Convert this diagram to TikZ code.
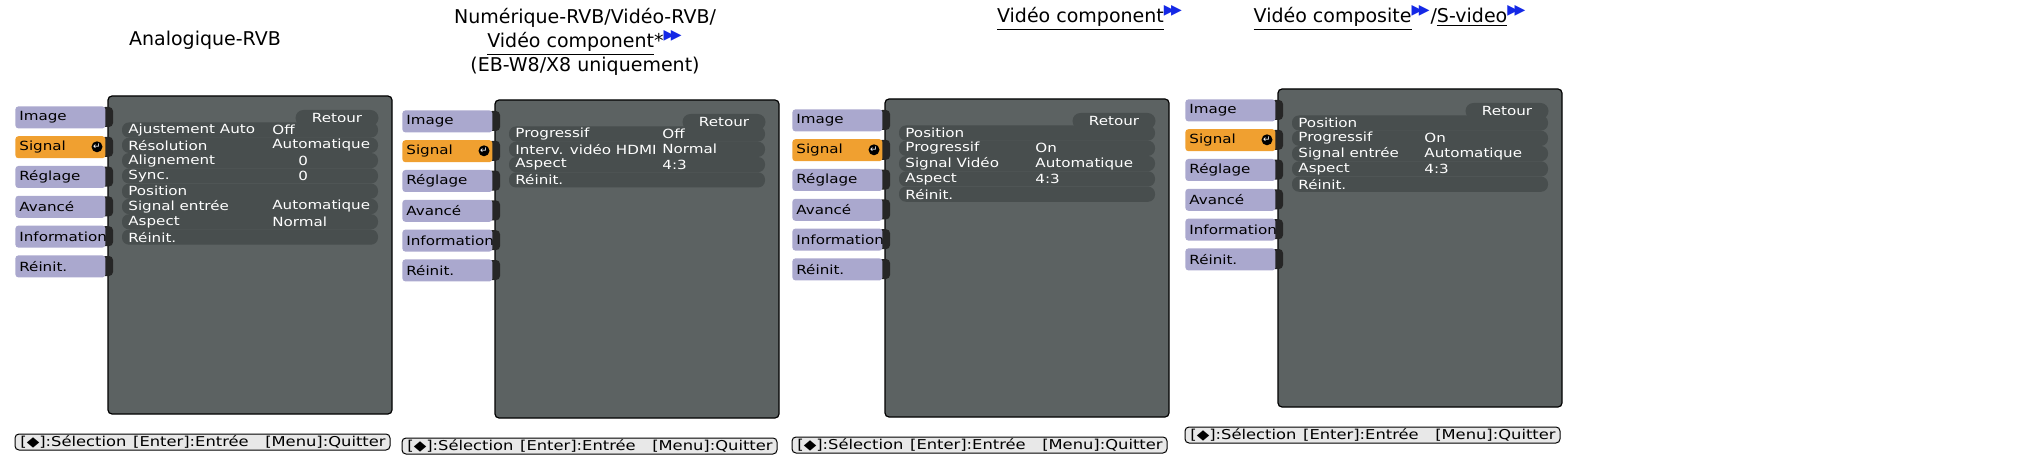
\documentclass[tikz,border=0pt]{standalone}
\usepackage{fontspec}
\setmainfont{DejaVu Sans}
\newfontfamily\menufont[FakeStretch=1.2]{DejaVu Sans}
\usetikzlibrary{positioning}
\definecolor{tablilac}{RGB}{170,168,206}
\definecolor{sigorange}{RGB}{240,160,48}
\definecolor{panelgrey}{RGB}{92,98,98}
\definecolor{rowgrey}{RGB}{72,78,78}
\definecolor{footgrey}{RGB}{232,232,232}
\definecolor{fwdblue}{RGB}{20,40,230}
\newcommand\fwd{\textsuperscript{\color{fwdblue}\scriptsize ▶\kern-0.25em▶}}
\tikzset{
  panelbox/.style={fill=panelgrey,draw=black,line width=0.6pt,rounded corners=2pt},
  tabstub/.style={fill=black!85,rounded corners=2pt},
  menutab/.style={anchor=north west,minimum width=45pt,minimum height=11pt,inner sep=1.5pt,text width=41pt,rounded corners=1.5pt,font=\menufont\fontsize{6.3}{7}\selectfont},
  pill/.style={fill=rowgrey,rounded corners=4pt,minimum width=41.5pt,minimum height=8pt,inner sep=0pt,text=white,font=\menufont\fontsize{6.3}{7}\selectfont},
  rowband/.style={fill=rowgrey,rounded corners=3.5pt},
  rowtext/.style={anchor=west,inner sep=0pt,text=white,font=\menufont\fontsize{6.3}{7}\selectfont},
  footbar/.style={fill=footgrey,draw=black,line width=0.5pt,rounded corners=2pt},
  foottext/.style={inner sep=0pt,font=\menufont\fontsize{6.8}{7}\selectfont},
  title/.style={align=center,font=\fontsize{9.5}{12}\selectfont}
}
% one menu screen: prefix, origin, value column, rows
\newcommand\menuscreen[4]{%
\begin{scope}[shift={#2}]
  \draw[panelbox] (93,-10) rectangle (377,308);
  \foreach \t/\c [count=\k from 0] in {Image/tablilac,Signal/sigorange,Réglage/tablilac,Avancé/tablilac,Information/tablilac,Réinit./tablilac} {
    \fill[tabstub] (86,\k*29.8+1) rectangle (98,\k*29.8+21);
    \node[menutab,fill=\c] (#1-tab\k) at (0,\k*29.8) {\t};
  }
  \fill (82,40.8) circle (5.5);
  \node[text=white,inner sep=0pt,font=\fontsize{4.5}{4.5}\selectfont] (#1-enter) at (82,40.8) {↵};
  \node[pill] (#1-ret) at (322,12) {Retour};
  \foreach \lab/\val [count=\k from 0] in {#4} {
    \fill[rowband] (107,24+\k*15.3-7.6) rectangle (363,24+\k*15.3+7.6);
  }
  \foreach \lab/\val [count=\k from 0] in {#4} {
    \node[rowtext] (#1-row\k) at (113,24+\k*15.3) {\lab};
    \node[rowtext] (#1-val\k) at (#3,24+\k*15.3) {\val};
  }
  \draw[footbar] (0,328) rectangle (375,344);
  \node[foottext,anchor=west] (#1-sel) at (5,336) {[◆]:Sélection\enspace [Enter]:Entrée};
  \node[foottext,anchor=east] (#1-quit) at (371,336) {[Menu]:Quitter};
\end{scope}}
\begin{document}
\begin{tikzpicture}[x=0.5pt,y=-0.5pt]
  \useasboundingbox (0,0) rectangle (2042,460);
  % titles
  \node[title] (t-rvb) at (205,40) {Analogique-RVB};
  \node[title] (t-num) at (585,42) {Numérique-RVB/Vidéo-RVB/\\\underline{Vidéo component}*\fwd\\(EB-W8/X8 uniquement)};
  \node[title] (t-comp) at (1090,18) {\underline{Vidéo component}\fwd};
  \node[title] (t-cvbs) at (1390,18) {\underline{Vidéo composite}\fwd/\underline{S-video}\fwd};
  % screens
  \menuscreen{a}{(15,106)}{257}{Ajustement Auto/Off,Résolution/Automatique,Alignement/\hphantom{Aut}0,Sync./\hphantom{Aut}0,Position/{},Signal entrée/Automatique,Aspect/Normal,Réinit./{}}
  \menuscreen{b}{(402,110)}{260}{Progressif/Off,Interv. vidéo HDMI/Normal,Aspect/4:3,Réinit./{}}
  \menuscreen{c}{(792,109)}{243}{Position/{},Progressif/On,Signal Vidéo/Automatique,Aspect/4:3,Réinit./{}}
  \menuscreen{d}{(1185,99)}{239}{Position/{},Progressif/On,Signal entrée/Automatique,Aspect/4:3,Réinit./{}}
\end{tikzpicture}
\end{document}
